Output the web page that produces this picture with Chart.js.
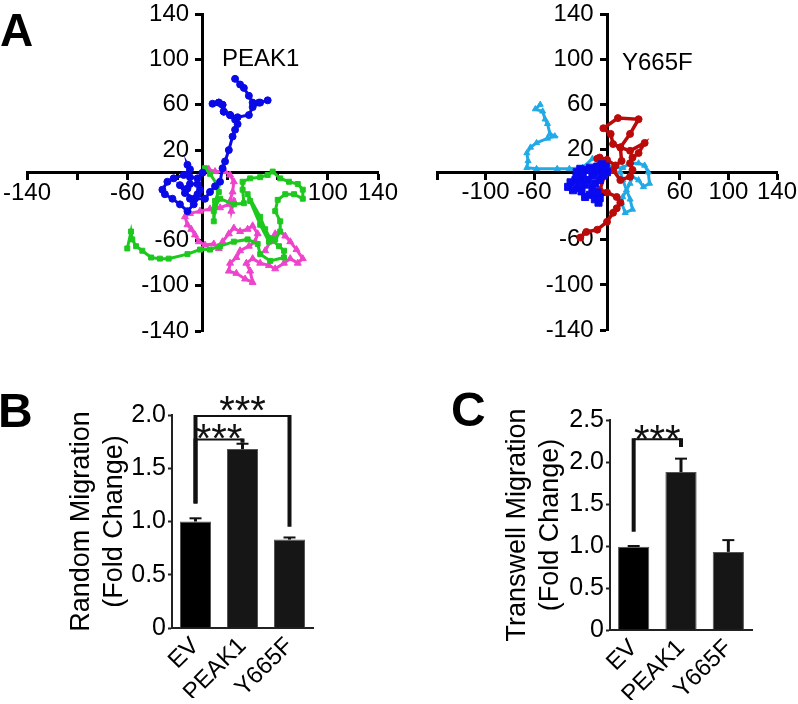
<!DOCTYPE html>
<html>
<head>
<meta charset="utf-8">
<script src="https://cdn.jsdelivr.net/npm/chart.js@4.4.1/dist/chart.umd.min.js"></script>
<style>
  body { margin: 0; background: #fff; width: 798px; height: 704px; position: relative; overflow: hidden;
         font-family: "Liberation Sans", Arial, sans-serif; }
  canvas { position: absolute; left: 0; top: 0; }
  .lbl { position: absolute; line-height: 1; color: #000; white-space: nowrap; }
</style>
</head>
<body>
<canvas id="trackPeak" width="798" height="704"></canvas>
<canvas id="trackMut" width="798" height="704"></canvas>
<canvas id="randomBars" width="798" height="704"></canvas>
<canvas id="transwellBars" width="798" height="704"></canvas>

<div class="lbl" style="left:0;top:7px;font-size:46px;font-weight:bold">A</div>
<div class="lbl" style="left:-2px;top:387px;font-size:48px;font-weight:bold">B</div>
<div class="lbl" style="left:451px;top:386px;font-size:48px;font-weight:bold">C</div>
<div class="lbl" style="left:222px;top:46px;font-size:24px">PEAK1</div>
<div class="lbl" style="left:622px;top:50px;font-size:24px">Y665F</div>

<script>
// ---- panel A: cell tracks (um), start at origin ----
const axisTicks = [-140, -100, -60, -20, 20, 60, 100, 140];
const peakShownX = [-140, -60, 100, 140];
const mutShownX = [-100, -60, 60, 100, 140];
const shownY = [140, 100, 60, 20, -60, -100, -140];

const peakBlue = [[0,0],[-4,-5],[-10,-4],[-12,7],[-10,3],[-15,-2],[-23,-5],[-28,-8],[-32,-15],[-30,-19],
  [-24,-23],[-18,-28],[-12,-34],[-7,-28],[-10,-23],[-4,-19],[-2,-15],[-4,-10],[-10,-10],[-12,-14],
  [-18,-11],[-14,-18],[-6,-23],[2,-23],[6,-17],[10,-12],[14,-8],[16,4],[18,10],[21,20],[24,32],
  [26,38],[28,43],[26,47],[22,51],[17,54],[16,60],[13,62],[8,61],[13,62],[16,60],[17,54],[22,51],
  [28,49],[37,51],[40,58],[46,62],[52,64],[45,62],[40,62],[37,68],[33,75],[30,78],[26,83]];

const peakMagenta = [[0,0],[5,3],[10,1],[18,1],[22,-2],[25,-8],[24,-17],[22,-25],[23,-34],[25,-25],
  [21,-28],[14,-31],[6,-32],[-2,-34],[-10,-36],[-14,-39],[-12,-46],[-9,-50],[-6,-55],[-3,-61],
  [2,-64],[9,-63],[13,-67],[16,-61],[21,-54],[25,-49],[30,-52],[36,-50],[40,-47],[44,-54],[42,-61],
  [37,-65],[30,-69],[27,-75],[22,-80],[21,-87],[27,-89],[34,-94],[40,-97],[38,-87],[35,-80],[40,-76],
  [46,-80],[53,-82],[58,-85],[65,-80],[70,-76],[76,-80],[80,-76],[75,-68],[70,-61],[66,-56],[62,-52],
  [58,-54],[54,-61],[50,-69]];

const peakGreen = [[0,0],[2,4],[6,-1],[12,-11],[13,-17],[10,-25],[9,-34],[9,-43],[10,-30],[14,-23],
  [25,-28],[33,-27],[32,-15],[32,-8],[38,-5],[46,-4],[52,-2],[56,1],[62,-5],[69,-8],[76,-10],[80,-15],
  [80,-23],[73,-19],[66,-19],[60,-24],[58,-34],[62,-43],[62,-52],[58,-59],[53,-61],[46,-46],[38,-25],
  [36,-19],[46,-39],[50,-50],[54,-58],[61,-65],[65,-69],[65,-75],[54,-78],[46,-72],[44,-63],[36,-59],
  [25,-61],[14,-65],[6,-68],[-2,-68],[-12,-72],[-27,-76],[-34,-76],[-41,-75],[-48,-69],[-53,-65],
  [-56,-59],[-57,-52],[-60,-67]];

const mutCyan = [[0,0],[11,0],[13,-7],[19,-24],[21,-33],[15,-36],[12,-27],[13,-22],[16,-16],[19,-10],
  [21,-4],[26,-7],[30,-13],[35,-10],[34,0],[31,6],[26,8],[19,8],[13,4],[5,4],[-3,9],[-12,12],[-20,4],
  [-31,3],[-41,3],[-58,3],[-66,4],[-65,10],[-66,17],[-63,22],[-58,26],[-49,30],[-43,32],[-47,34],
  [-49,43],[-51,47],[-53,54],[-59,56],[-55,60]];

const mutRed = [[0,0],[5,2],[11,-7],[19,-4],[21,2],[19,8],[21,13],[26,17],[31,26],[19,19],[11,22],
  [5,25],[3,34],[-3,39],[9,48],[26,47],[19,34],[11,22],[12,10],[7,6],[0,11],[-6,13],[-8,12],[-2,-3],
  [-6,-16],[0,-18],[8,-22],[11,-27],[8,-32],[5,-36],[0,-44],[-8,-51],[-17,-53],[-22,-58]];

const mutBlue = [[0,0],[-3,3],[-8,5],[-14,4],[-18,2],[-22,3],[-25,0],[-22,-4],[-26,-7],[-30,-9],
  [-32,-13],[-28,-16],[-24,-14],[-21,-17],[-18,-22],[-14,-20],[-10,-24],[-7,-27],[-6,-23],[-8,-18],
  [-12,-14],[-10,-10],[-6,-7],[-3,-3],[-7,0],[-12,-3],[-16,-7],[-18,-11],[-22,-10],[-25,-4],[-20,-1],
  [-14,2],[-9,3],[-4,7],[-1,5]];

// ---- panels B and C: bars ----
const groups = ['EV', 'PEAK1', 'Y665F'];
const randomMig = [1.0, 1.68, 0.83];
const randomErr = [0.03, 0.05, 0.02];
const transwellMig = [0.99, 1.88, 0.93];
const transwellErr = [0.01, 0.16, 0.14];
// [fromIndex, toIndex, barValue, leftLegEnd, rightLegEnd, starsValue]
const randomBrackets = [[0, 2, 1.99, 1.17, 0.95, 2.125], [0, 1, 1.77, 1.17, 1.74, 1.87]];
const transwellBrackets = [[0, 1, 2.27, 1.17, 2.18, 2.38]];

Chart.defaults.font.family = '"Liberation Sans", Arial, sans-serif';
Chart.defaults.color = '#000';

function axisOpts(shown, pos, isY) {
  return {
    type: 'linear', min: -140, max: 140, position: pos,
    afterBuildTicks: s => { s.ticks = axisTicks.map(v => ({value: v})); },
    ticks: {
      // centred y axis puts labels flush on the line, so pad them with spaces
      callback: v => shown.includes(v) ? (isY ? v + '\u00a0\u00a0' : String(v)) : '',
      color: '#000', font: {size: 24}, padding: 0, autoSkip: false, maxRotation: 0
    },
    grid: {drawOnChartArea: false, drawTicks: true, tickLength: 6, tickWidth: 3, tickColor: '#000'},
    border: {display: true, color: '#000', width: 3}
  };
}

function trackChart(id, tracks, shownX, pad) {
  return new Chart(document.getElementById(id), {
    type: 'scatter',
    data: {
      datasets: tracks.map(t => ({
        data: t.pts.map(p => ({x: p[0], y: p[1]})),
        showLine: true,
        borderColor: t.color,
        backgroundColor: t.color,
        borderWidth: t.width,
        pointStyle: t.shape,
        pointRadius: t.size,
        pointBorderWidth: 1
      }))
    },
    options: {
      responsive: false, animation: false, events: [],
      layout: {padding: pad},
      plugins: {legend: {display: false}, tooltip: {enabled: false}},
      scales: {
        x: axisOpts(shownX, {y: 0}, false),
        y: axisOpts(shownY, {x: 0}, true)
      }
    }
  });
}

trackChart('trackPeak', [
  {pts: peakBlue, color: '#0a0ae6', shape: 'circle', width: 3, size: 3.5},
  {pts: peakGreen, color: '#1ec81e', shape: 'rect', width: 3, size: 3.5},
  {pts: peakMagenta, color: '#ee44cc', shape: 'triangle', width: 3, size: 4}
], peakShownX, {left: 27, top: 12, right: 420, bottom: 373});

trackChart('trackMut', [
  {pts: mutBlue, color: '#0a0af0', shape: 'rect', width: 4.5, size: 5},
  {pts: mutRed, color: '#bb0a0a', shape: 'circle', width: 3.5, size: 3.5},
  {pts: mutCyan, color: '#22aae6', shape: 'triangle', width: 3, size: 3.5}
], mutShownX, {left: 437, top: 12, right: 21, bottom: 374});

function makeExtras(values, errors, brackets) {
  return {
    id: 'extras',
    afterDatasetsDraw(chart) {
      const ctx = chart.ctx;
      const xs = chart.scales.x, ys = chart.scales.y;
      ctx.save();
      ctx.strokeStyle = '#111';
      values.forEach((v, i) => {
        const px = xs.getPixelForValue(i);
        const p0 = ys.getPixelForValue(v), p1 = ys.getPixelForValue(v + errors[i]);
        ctx.lineWidth = 3;
        ctx.beginPath(); ctx.moveTo(px, p0); ctx.lineTo(px, p1); ctx.stroke();
        ctx.lineWidth = 2;
        ctx.beginPath(); ctx.moveTo(px - 6, p1); ctx.lineTo(px + 6, p1); ctx.stroke();
      });
      brackets.forEach(b => {
        const x1 = xs.getPixelForValue(b[0]), x2 = xs.getPixelForValue(b[1]);
        const yt = ys.getPixelForValue(b[2]);
        ctx.lineWidth = 2;
        ctx.beginPath(); ctx.moveTo(x1, yt); ctx.lineTo(x2, yt); ctx.stroke();
        ctx.lineWidth = 4;
        ctx.beginPath();
        ctx.moveTo(x1, yt - 1); ctx.lineTo(x1, ys.getPixelForValue(b[3]));
        ctx.moveTo(x2, yt - 1); ctx.lineTo(x2, ys.getPixelForValue(b[4]));
        ctx.stroke();
        ctx.fillStyle = '#111';
        ctx.font = '40px "Liberation Sans", Arial, sans-serif';
        ctx.textAlign = 'center';
        ctx.textBaseline = 'alphabetic';
        ctx.fillText('***', (x1 + x2) / 2, ys.getPixelForValue(b[5]) + 0.57 * 40);
      });
      ctx.restore();
    }
  };
}

function barChart(id, values, errors, brackets, yMax, title, titlePad, yWidth, pad) {
  return new Chart(document.getElementById(id), {
    type: 'bar',
    data: {
      labels: groups,
      datasets: [{
        data: values,
        backgroundColor: ['#000000', '#161616', '#161616'],
        borderColor: '#555',
        borderWidth: 1,
        barPercentage: 0.66,
        categoryPercentage: 1
      }]
    },
    options: {
      responsive: false, animation: false, events: [],
      layout: {padding: pad},
      plugins: {legend: {display: false}, tooltip: {enabled: false}},
      scales: {
        x: {
          afterFit: s => { s.height = 70; },
          grid: {display: false, drawTicks: false},
          border: {display: true, color: '#222', width: 2},
          ticks: {font: {size: 24}, color: '#000', minRotation: 45, maxRotation: 45, padding: 4}
        },
        y: {
          min: 0, max: yMax,
          afterFit: s => { s.width = yWidth; },
          grid: {drawOnChartArea: false, drawTicks: true, tickLength: 4, tickColor: '#222', tickWidth: 2},
          border: {display: true, color: '#222', width: 2},
          ticks: {stepSize: 0.5, font: {size: 25}, color: '#000', padding: 2,
                  callback: v => v === 0 ? '0' : v.toFixed(1)},
          title: {display: true, text: title, color: '#000',
                  font: {size: 27, lineHeight: 33 / 27}, padding: {top: titlePad, bottom: 0}}
        }
      }
    },
    plugins: [makeExtras(values, errors, brackets)]
  });
}

barChart('randomBars', randomMig, randomErr, randomBrackets, 2.0,
  ['Random Migration', '(Fold Change)'], 5.5, 112, {left: 60, top: 415, right: 485, bottom: 6});
barChart('transwellBars', transwellMig, transwellErr, transwellBrackets, 2.5,
  ['Transwell Migration', '(Fold Change)'], 1.5, 110, {left: 500, top: 420, right: 46, bottom: 4});
</script>
</body>
</html>
